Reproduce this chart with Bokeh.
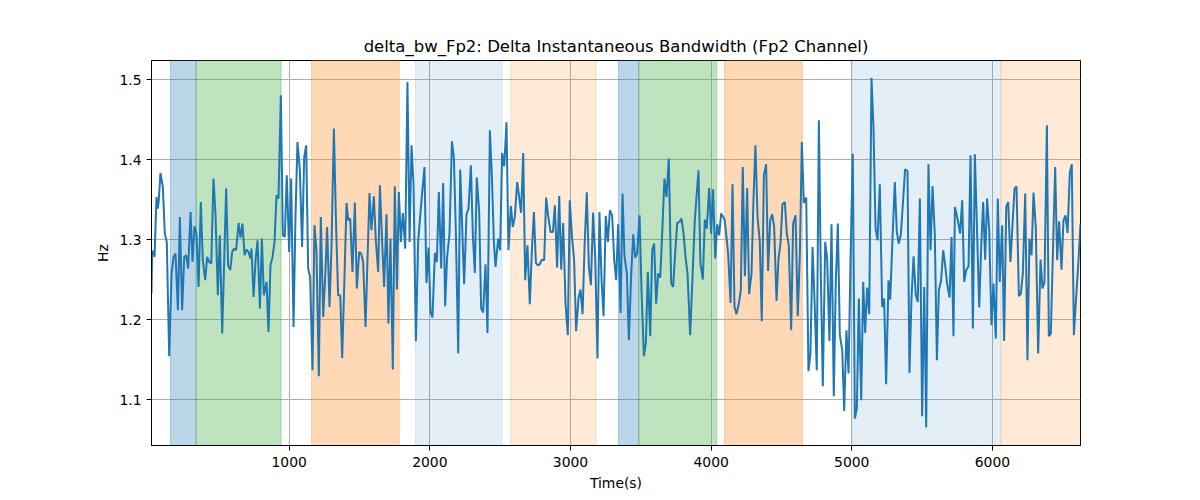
from bokeh.plotting import figure
from bokeh.models import Range1d, FixedTicker, BoxAnnotation, PrintfTickFormatter
from bokeh.embed import file_html
from bokeh.resources import INLINE

# ---------------- data ----------------
time_s = [
    21, 26, 36, 43, 57, 66, 73, 85, 102, 116, 130, 147, 164, 178, 192, 209, 223, 239, 254, 268,
    282, 299, 313, 327, 341, 356, 372, 386, 403, 417, 431, 446, 462, 476, 493, 507, 524, 552, 566, 581,
    595, 609, 623, 640, 654, 668, 683, 697, 711, 725, 732, 747, 761, 775, 792, 806, 820,
    839, 853, 867, 882, 896, 910, 924, 941, 955, 969, 983, 1000, 1014, 1031, 1045, 1059, 1076, 1092, 1107, 1121,
    1135, 1149, 1166, 1180, 1194, 1211, 1225, 1242, 1256, 1270, 1287, 1301, 1318, 1332, 1348, 1363, 1377, 1408, 1420, 1434,
    1450, 1467, 1481, 1498, 1512, 1526, 1543, 1571, 1585, 1602, 1616, 1633, 1645,
    1661, 1675, 1692, 1706, 1720, 1737, 1751, 1766, 1780, 1794, 1808, 1825, 1841, 1856, 1870, 1884, 1901, 1917, 1931, 1946,
    1962, 1976, 1991, 2005, 2019, 2036, 2050, 2064, 2081, 2095, 2109, 2123, 2140, 2157, 2171, 2185, 2202, 2216, 2230, 2244,
    2261, 2275, 2292, 2306, 2320, 2334, 2351, 2365, 2379, 2396, 2410, 2427, 2441, 2455, 2467,
    2486, 2500, 2514, 2529, 2545, 2559, 2576, 2590, 2604, 2621, 2635, 2649, 2664, 2678, 2694, 2711, 2725, 2740, 2754, 2768,
    2782, 2796, 2813, 2827, 2841, 2858, 2875, 2889, 2905, 2920, 2934, 2948, 2965, 2981, 2995, 3010, 3026, 3040, 3057, 3071,
    3086, 3100, 3116, 3131, 3145, 3161, 3176, 3192, 3206, 3221, 3235, 3251, 3266, 3280,
    3296, 3311, 3325, 3339, 3356, 3370, 3384, 3401, 3415, 3432, 3446, 3460, 3474, 3491, 3505, 3522, 3536, 3550, 3567, 3581,
    3595, 3609, 3623, 3638, 3652, 3668, 3683, 3699, 3716, 3730, 3744, 3759, 3775, 3789, 3804, 3818, 3832, 3851, 3868, 3884,
    3910, 3924, 3941, 3955, 3969, 3986, 4000, 4014, 4029, 4043, 4057, 4071, 4086, 4097,
    4121, 4138, 4152, 4166, 4180, 4197, 4211, 4225, 4240, 4256, 4270, 4287, 4301, 4315, 4330, 4346, 4360, 4375, 4391, 4405,
    4420, 4434, 4448, 4465, 4479, 4493, 4507, 4524, 4538, 4552, 4569, 4583, 4600, 4616, 4631, 4645, 4659, 4676, 4692, 4706,
    4721, 4735, 4751, 4766, 4780, 4794, 4811, 4825, 4841, 4856, 4872, 4886, 4901, 4915,
    4932, 4946, 4962, 4977, 4991, 5007, 5022, 5036, 5050, 5067, 5081, 5095, 5109, 5124, 5140, 5154, 5169, 5183, 5199, 5216,
    5230, 5244, 5261, 5273, 5289, 5306, 5320, 5334, 5349, 5365, 5379, 5396, 5410, 5424, 5439, 5455, 5469, 5484, 5500, 5515,
    5529, 5545, 5560, 5574, 5590, 5605, 5619, 5635, 5650, 5664, 5678, 5695, 5709, 5723, 5733,
    5754, 5770, 5785, 5799, 5813, 5830, 5844, 5861, 5875, 5891, 5906, 5920, 5934, 5948, 5962, 5977, 5993, 6007, 6024, 6038,
    6052, 6069, 6083, 6098, 6112, 6128, 6143, 6157, 6171, 6188, 6202, 6216, 6233, 6249, 6263, 6278, 6292, 6308, 6325, 6342,
    6356, 6370, 6387, 6401, 6415, 6429, 6446, 6460, 6474, 6491, 6505, 6519, 6534, 6550, 6564, 6579, 6595, 6609, 6626,
]

bw_hz = [
    1.2325, 1.2858, 1.2846, 1.2783, 1.3533, 1.3388, 1.3492, 1.3833, 1.3658, 1.3075, 1.2971, 1.1542, 1.2575, 1.2783, 1.2825, 1.2117, 1.3283, 1.2117, 1.2783, 1.2804,
    1.2638, 1.3346, 1.2721, 1.3167, 1.3075, 1.2408, 1.3471, 1.2742, 1.2492, 1.2783, 1.2721, 1.27, 1.3763, 1.3325, 1.2304, 1.3054, 1.1825, 1.3638, 1.2679, 1.2617,
    1.2846, 1.2888, 1.2867, 1.3208, 1.3025, 1.32, 1.2804, 1.2875, 1.2846, 1.2763, 1.2888, 1.2283, 1.2742, 1.2992, 1.2138, 1.3013, 1.2304,
    1.2471, 1.1846, 1.2679, 1.2783, 1.2971, 1.3554, 1.3513, 1.4804, 1.3054, 1.3033, 1.3804, 1.2846, 1.3763, 1.1908, 1.3283, 1.4221, 1.3867, 1.2908, 1.4033, 1.4179,
    1.2638, 1.2533, 1.1367, 1.3179, 1.2867, 1.1292, 1.3283, 1.2033, 1.2533, 1.3158, 1.2158, 1.2908, 1.4388, 1.3283, 1.2304, 1.2304, 1.1521, 1.3458, 1.3242, 1.3263,
    1.2596, 1.3463, 1.2388, 1.2846, 1.2825, 1.2721, 1.1908, 1.3583, 1.3117, 1.3542, 1.2992, 1.2596, 1.3679,
    1.2971, 1.2408, 1.3317, 1.195, 1.3013, 1.1375, 1.3667, 1.2375, 1.3596, 1.2971, 1.3333, 1.2888, 1.4971, 1.2971, 1.4179, 1.37, 1.1729, 1.2971, 1.3283, 1.3596,
    1.3908, 1.2458, 1.29, 1.2096, 1.2025, 1.2833, 1.2721, 1.3596, 1.2638, 1.3708, 1.2167, 1.2783, 1.3075, 1.4229, 1.4033, 1.3096, 1.1575, 1.3875, 1.3158, 1.2442,
    1.3317, 1.3388, 1.3929, 1.3054, 1.2583, 1.3775, 1.3346, 1.2138, 1.2088, 1.2692, 1.1833, 1.4367, 1.3804, 1.2992, 1.2658,
    1.3013, 1.2867, 1.4083, 1.3917, 1.4467, 1.2867, 1.3421, 1.3158, 1.3283, 1.3721, 1.3533, 1.3333, 1.4083, 1.2492, 1.2929, 1.2192, 1.2846, 1.3346, 1.2708, 1.2679,
    1.2692, 1.275, 1.2742, 1.3525, 1.3304, 1.3096, 1.3096, 1.3429, 1.265, 1.3546, 1.2625, 1.3208, 1.22, 1.1804, 1.3492, 1.3054, 1.2742, 1.1854, 1.2263, 1.2375,
    1.2067, 1.2908, 1.3592, 1.2658, 1.2429, 1.3338, 1.2763, 1.1513, 1.3346, 1.2492, 1.2042, 1.3296, 1.2971, 1.3367,
    1.3304, 1.2742, 1.2492, 1.3192, 1.2083, 1.3575, 1.2792, 1.2575, 1.1742, 1.2575, 1.3067, 1.2775, 1.2825, 1.3304, 1.2367, 1.1542, 1.1708, 1.2596, 1.1792, 1.2867,
    1.295, 1.22, 1.2575, 1.2525, 1.3075, 1.3763, 1.3533, 1.4013, 1.2458, 1.2408, 1.2825, 1.3208, 1.3221, 1.3263, 1.3075, 1.2783, 1.2575, 1.1804, 1.2554, 1.3242,
    1.3867, 1.27, 1.25, 1.325, 1.3138, 1.3646, 1.3075, 1.3629, 1.2763, 1.3192, 1.3054, 1.3325, 1.3283, 1.3242,
    1.2825, 1.2208, 1.3692, 1.2158, 1.2067, 1.22, 1.2367, 1.3908, 1.2542, 1.3646, 1.2317, 1.2575, 1.35, 1.4179, 1.3283, 1.2971, 1.1979, 1.3804, 1.3942, 1.2608,
    1.3242, 1.3317, 1.3158, 1.2233, 1.2763, 1.295, 1.3442, 1.3471, 1.3075, 1.2929, 1.1867, 1.32, 1.3304, 1.2042, 1.2825, 1.4221, 1.3458, 1.3525, 1.1354, 1.1575,
    1.2908, 1.2242, 1.1367, 1.4492, 1.2533, 1.1167, 1.2971, 1.2763, 1.1733, 1.3192, 1.1042, 1.245, 1.32, 1.1804,
    1.1617, 1.0858, 1.1867, 1.1325, 1.2742, 1.4075, 1.0763, 1.0888, 1.2263, 1.0992, 1.2471, 1.1833, 1.24, 1.2067, 1.5025, 1.4408, 1.3138, 1.2992, 1.3692, 1.2158,
    1.2263, 1.1192, 1.2492, 1.225, 1.2992, 1.3721, 1.3096, 1.295, 1.3067, 1.3492, 1.3879, 1.3858, 1.1333, 1.2242, 1.2792, 1.2304, 1.2221, 1.3513, 1.0792, 1.2408,
    1.065, 1.3942, 1.2867, 1.3671, 1.3075, 1.1492, 1.2367, 1.2492, 1.2867, 1.2679, 1.2442, 1.2275, 1.3033, 1.1792, 1.3408,
    1.3242, 1.3075, 1.3492, 1.2471, 1.2617, 1.2667, 1.4054, 1.1888, 1.4067, 1.3075, 1.215, 1.2908, 1.3471, 1.275, 1.3513, 1.3117, 1.1929, 1.245, 1.1763, 1.3513,
    1.2471, 1.3179, 1.1733, 1.3408, 1.3471, 1.2721, 1.32, 1.3638, 1.3667, 1.2292, 1.2325, 1.2575, 1.3575, 1.1492, 1.3013, 1.2804, 1.3588, 1.3158, 1.1575, 1.275,
    1.2388, 1.2471, 1.4429, 1.1792, 1.1825, 1.2783, 1.3908, 1.2742, 1.3229, 1.2625, 1.3242, 1.3304, 1.3083, 1.3833, 1.3942, 1.1804, 1.2283, 1.2658, 1.32,
]

# shaded stage intervals (seconds)
span_start = [156, 339, 1159, 1898, 2574, 3341, 3486, 4095, 5003, 6062]
span_end = [339, 943, 1782, 2514, 3183, 3486, 4040, 4649, 6060, 6700]
span_color = ["#1f77b4", "#2ca02c", "#ff7f0e", "#1f77b4", "#ff7f0e",
              "#1f77b4", "#2ca02c", "#ff7f0e", "#1f77b4", "#ff7f0e"]
span_alpha = [0.3, 0.3, 0.3, 0.12, 0.16, 0.3, 0.3, 0.3, 0.12, 0.16]

x_ticks = [1000, 2000, 3000, 4000, 5000, 6000]
y_ticks = [1.1, 1.2, 1.3, 1.4, 1.5]

FONT = "DejaVu Sans"

p = figure(
    width=1200, height=500,
    frame_width=929, frame_height=385,
    min_border_left=151, min_border_right=120,
    min_border_top=60, min_border_bottom=55,
    x_range=Range1d(21.3, 6626), y_range=Range1d(1.0425, 1.524),
    output_backend="svg", toolbar_location=None,
    title="delta_bw_Fp2: Delta Instantaneous Bandwidth (Fp2 Channel)",
)

for s, e, c, a in zip(span_start, span_end, span_color, span_alpha):
    p.add_layout(BoxAnnotation(left=s, right=e, fill_color=c, fill_alpha=a,
                               line_color=c, line_alpha=a, line_width=1,
                               level="underlay"))

p.line(time_s, bw_hz, line_color="#1f77b4", line_width=2)

p.title.text_font = FONT
p.title.text_font_size = "16.5px"
p.title.text_font_style = "normal"
p.title.align = "center"
p.title.text_color = "black"

p.xaxis.axis_label = "Time(s)"
p.yaxis.axis_label = "Hz"
p.xaxis.ticker = FixedTicker(ticks=x_ticks)
p.yaxis.ticker = FixedTicker(ticks=y_ticks)
p.yaxis.formatter = PrintfTickFormatter(format="%.1f")

for ax in (p.xaxis, p.yaxis):
    ax.axis_label_text_font = FONT
    ax.axis_label_text_font_size = "13.9px"
    ax.axis_label_text_font_style = "normal"
    ax.axis_label_text_color = "black"
    ax.major_label_text_font = FONT
    ax.major_label_text_font_size = "13.9px"
    ax.major_label_text_color = "black"
    ax.major_tick_in = 0
    ax.major_tick_out = 5
    ax.minor_tick_in = 0
    ax.minor_tick_out = 0
    ax.axis_line_color = "black"
    ax.major_tick_line_color = "black"

p.xaxis.axis_label_standoff = 5
p.yaxis.axis_label_standoff = 5
p.xaxis.major_label_standoff = 6
p.yaxis.major_label_standoff = 5

p.xgrid.grid_line_color = "#b0b0b0"
p.ygrid.grid_line_color = "#b0b0b0"
p.xgrid.grid_line_width = 1
p.ygrid.grid_line_width = 1

p.outline_line_color = "black"
p.outline_line_width = 1
p.background_fill_color = "white"
p.border_fill_color = "white"

open("out.html", "w").write(file_html(p, INLINE))
